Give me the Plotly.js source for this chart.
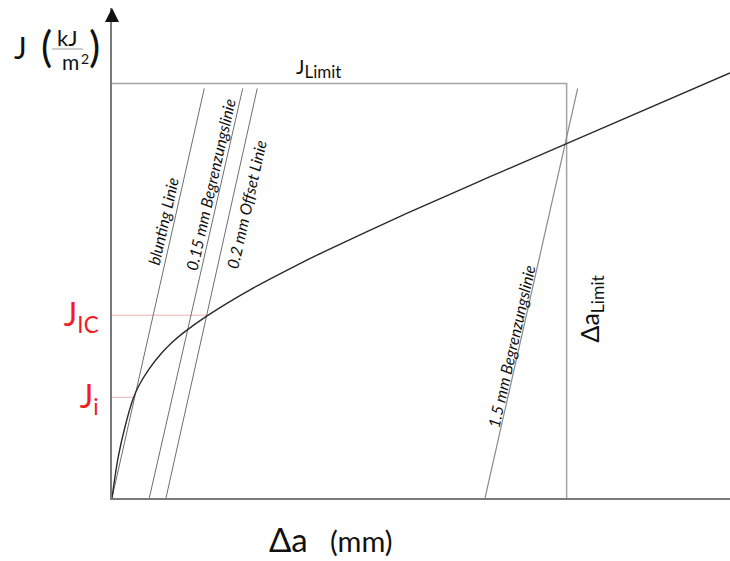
<!DOCTYPE html>
<html>
<head>
<meta charset="utf-8">
<script src="https://cdn.plot.ly/plotly-3.0.1.min.js"></script>
<style>html,body{margin:0;padding:0;background:#fff;}#chart{width:730px;height:561px;}</style>
</head>
<body>
<div id="chart"></div>
<script>
// Schematic J-R curve (units: Δa in mm, J in kJ/m²)
const curveX = [0, 0.0253, 0.0523, 0.0856, 0.1057, 0.146, 0.1998, 0.240, 0.2867, 0.3808, 0.5549, 0.7559, 0.8496, 1.185, 1.2786, 1.52, 1.828, 2.485];
const curveY = [0, 9.96, 17.19, 24.04, 26.84, 30.87, 34.96, 37.45, 39.83, 43.88, 50.23, 56.56, 59.32, 68.64, 71.15, 77.5, 85.5, 102.55];

// construction lines (bottom point, top point)
const bluntX = [0, 0.371];
const bluntY = [0, 98.8];
const line015X = [0.150, 0.5255];
const line015Y = [0, 98.8];
const line02X = [0.217, 0.584];
const line02Y = [0, 98.8];
const line15X = [1.500, 1.8725];
const line15Y = [0, 98.8];

// limits
const daLimit = 1.828;
const jLimit = 100;
const limitX = [0, daLimit, daLimit];
const limitY = [jLimit, jLimit, 0];

// characteristic values
const jIC = 44.1;
const jI = 24.3;
const jicLineX = [0, 0.381];
const jiLineX = [0, 0.088];

const tickVals = [jIC, jI];
const tickText = ['J<sub>IC</sub>', 'J<sub>i</sub>'];

const xMax = 2.485;
const yMax = 118.2;

const FONT = 'Lato, "Open Sans", sans-serif';
const grey = '#6e6e6e';

const traces = [
  {x: limitX, y: limitY, mode: 'lines', line: {color: '#a3a3a3', width: 1.5}},
  {x: jicLineX, y: [jIC, jIC], mode: 'lines', line: {color: '#eab0b0', width: 1}},
  {x: jiLineX, y: [jI, jI], mode: 'lines', line: {color: '#eab0b0', width: 1}},
  {x: bluntX, y: bluntY, mode: 'lines', line: {color: grey, width: 1}},
  {x: line015X, y: line015Y, mode: 'lines', line: {color: grey, width: 1}},
  {x: line02X, y: line02Y, mode: 'lines', line: {color: grey, width: 1}},
  {x: line15X, y: line15Y, mode: 'lines', line: {color: '#8a8a8a', width: 1.2}},
  {x: curveX, y: curveY, mode: 'lines', line: {color: '#2a2a2a', width: 1.4, shape: 'spline', smoothing: 1}}
];

const ang = -77.3;
function pa(text, dx, dy, size, extra) {
  // annotation placed by pixel offset from the top-left corner of the plot area
  return Object.assign({x: 0, y: 1, xref: 'paper', yref: 'paper', xanchor: 'center', yanchor: 'middle',
    xshift: dx, yshift: -dy, text: text, showarrow: false, borderpad: 0, font: {family: FONT, size: size, color: '#111'}}, extra || {});
}
const annotations = [
  // axis arrow
  {x: 0, y: yMax, xref: 'x', yref: 'y', showarrow: true, ax: 0, ay: 10, arrowhead: 2, arrowsize: 1.4, arrowwidth: 2, arrowcolor: '#111', text: ''},
  // line labels
  {x: 0.203, y: 66.8, xref: 'x', yref: 'y', text: '<i>blunting Linie</i>', textangle: ang, showarrow: false, font: {family: FONT, size: 16, color: '#111'}},
  {x: 0.394, y: 75.7, xref: 'x', yref: 'y', text: '<i>0.15 mm Begrenzungslinie</i>', textangle: ang, showarrow: false, font: {family: FONT, size: 16, color: '#111'}},
  {x: 0.538, y: 70.9, xref: 'x', yref: 'y', text: '<i>0.2 mm Offset Linie</i>', textangle: ang, showarrow: false, font: {family: FONT, size: 16, color: '#111'}},
  {x: 1.607, y: 36.7, xref: 'x', yref: 'y', text: '<i>1.5 mm Begrenzungslinie</i>', textangle: ang, showarrow: false, font: {family: FONT, size: 16, color: '#111'}},
  // limits
  {x: 0.83, y: jLimit, xref: 'x', yref: 'y', xanchor: 'center', yanchor: 'bottom', yshift: -1, text: 'J<sub><span style="font-size:17px">Limit</span></sub>', showarrow: false, font: {family: FONT, size: 20, color: '#111'}},
  {x: daLimit, y: 45.6, xref: 'x', yref: 'y', xanchor: 'center', yanchor: 'middle', xshift: 24, text: 'Δa<sub>Limit</sub>', textangle: -90, showarrow: false, font: {family: FONT, size: 25, color: '#111'}},
  // x title
  pa('<span style="font-size:33px">Δa</span>&nbsp;&nbsp;&nbsp;(mm)', 219, 531, 29),
  // y title pieces
  pa('J', -92, 39, 30),
  pa('(', -66, 38, 42),
  pa('kJ', -45, 29, 22, {height: 20}),
  pa('m', -42, 53, 21, {height: 18}),
  pa('2', -27, 50, 14),
  pa(')', -18, 38, 42)
];

const shapes = [
  {type: 'line', xref: 'paper', yref: 'paper', x0: -60/618, x1: -29/618, y0: (498-49)/490, y1: (498-49)/490, line: {color: '#999', width: 1}}
];

const layout = {
  width: 730, height: 561,
  margin: {l: 112, r: 0, t: 8, b: 63, pad: 0},
  paper_bgcolor: '#fff', plot_bgcolor: '#fff',
  showlegend: false,
  xaxis: {range: [0, xMax], showgrid: false, zeroline: false, showline: true, linecolor: '#7a7a7a', linewidth: 2, showticklabels: false, ticks: ''},
  yaxis: {range: [0, yMax], showgrid: false, zeroline: false, showline: true, linecolor: '#7a7a7a', linewidth: 2,
          tickvals: tickVals, ticktext: tickText, ticks: '', ticklabelstandoff: 5,
          tickfont: {family: FONT, size: 32, color: '#ee1c24'}},
  annotations: annotations,
  shapes: shapes
};

Plotly.newPlot('chart', traces, layout, {displayModeBar: false, staticPlot: true});
</script>
</body>
</html>
